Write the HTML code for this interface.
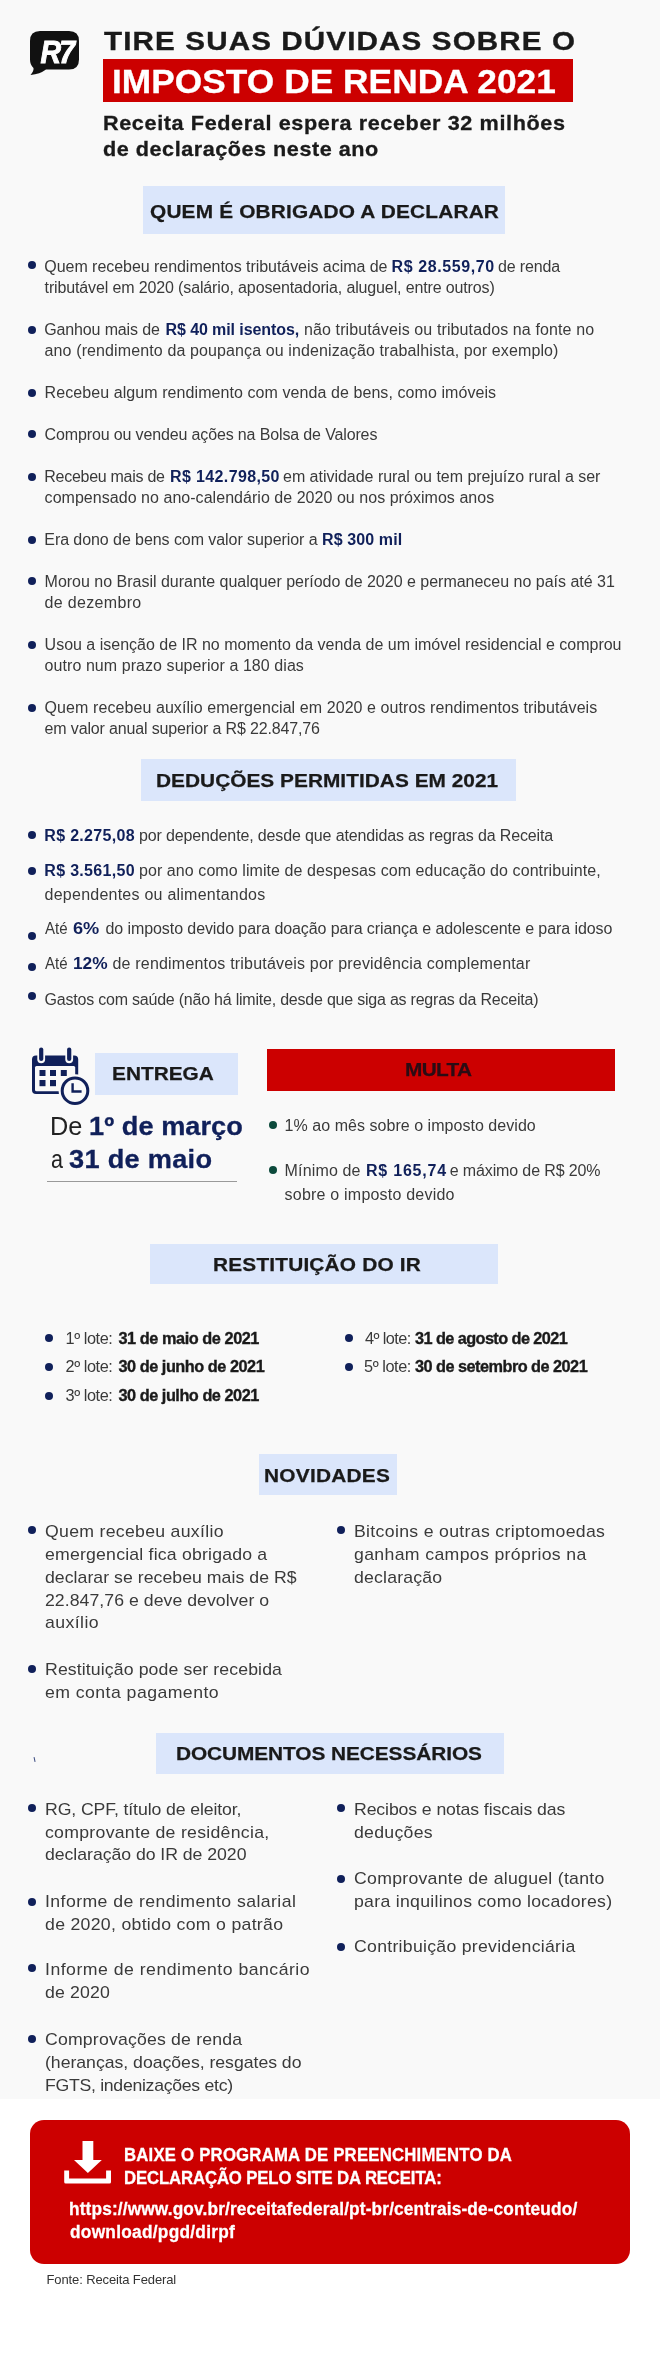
<!DOCTYPE html>
<html lang="pt-BR"><head><meta charset="utf-8"><title>Imposto de Renda 2021</title>
<style>
html,body{margin:0;padding:0;background:#fff}
body{width:660px;height:2366px;position:relative;overflow:hidden;font-family:"Liberation Sans", sans-serif}
.b{position:absolute}
.t{position:absolute;white-space:pre;transform-origin:0 50%}
svg{position:absolute;left:0;top:0}
</style></head><body>
<div class="b" style="left:0px;top:0px;width:660.0px;height:2098.7px;background:#f9f9f9;"></div>
<div class="b" style="left:103px;top:59.3px;width:469.5px;height:42.5px;background:#cc0000;"></div>
<div class="b" style="left:143px;top:186px;width:362.0px;height:47.5px;background:#dbe6fb;"></div>
<div class="b" style="left:28.20px;top:260.90px;width:8.2px;height:8.2px;border-radius:50%;background:#10205a"></div>
<div class="b" style="left:28.20px;top:325.90px;width:8.2px;height:8.2px;border-radius:50%;background:#10205a"></div>
<div class="b" style="left:28.20px;top:388.60px;width:8.2px;height:8.2px;border-radius:50%;background:#10205a"></div>
<div class="b" style="left:28.20px;top:429.90px;width:8.2px;height:8.2px;border-radius:50%;background:#10205a"></div>
<div class="b" style="left:28.20px;top:472.60px;width:8.2px;height:8.2px;border-radius:50%;background:#10205a"></div>
<div class="b" style="left:28.20px;top:535.90px;width:8.2px;height:8.2px;border-radius:50%;background:#10205a"></div>
<div class="b" style="left:28.20px;top:577.20px;width:8.2px;height:8.2px;border-radius:50%;background:#10205a"></div>
<div class="b" style="left:28.20px;top:640.90px;width:8.2px;height:8.2px;border-radius:50%;background:#10205a"></div>
<div class="b" style="left:28.20px;top:703.90px;width:8.2px;height:8.2px;border-radius:50%;background:#10205a"></div>
<div class="b" style="left:141px;top:759px;width:374.7px;height:41.7px;background:#dbe6fb;"></div>
<div class="b" style="left:28.40px;top:831.00px;width:8.0px;height:8.0px;border-radius:50%;background:#10205a"></div>
<div class="b" style="left:28.40px;top:867.00px;width:8.0px;height:8.0px;border-radius:50%;background:#10205a"></div>
<div class="b" style="left:28.40px;top:932.00px;width:8.0px;height:8.0px;border-radius:50%;background:#10205a"></div>
<div class="b" style="left:28.40px;top:962.70px;width:8.0px;height:8.0px;border-radius:50%;background:#10205a"></div>
<div class="b" style="left:28.40px;top:992.00px;width:8.0px;height:8.0px;border-radius:50%;background:#10205a"></div>
<div class="b" style="left:94.5px;top:1052.5px;width:143.0px;height:42.2px;background:#dbe6fb;"></div>
<div class="b" style="left:267px;top:1049px;width:348.0px;height:41.5px;background:#cc0000;"></div>
<div class="b" style="left:47.3px;top:1180.5px;width:190.2px;height:1.0px;background:#9a9a9a;"></div>
<div class="b" style="left:269.00px;top:1121.30px;width:8.0px;height:8.0px;border-radius:50%;background:#0c4a3c"></div>
<div class="b" style="left:269.00px;top:1166.00px;width:8.0px;height:8.0px;border-radius:50%;background:#0c4a3c"></div>
<div class="b" style="left:150px;top:1244px;width:348.0px;height:40.0px;background:#dbe6fb;"></div>
<div class="b" style="left:45.00px;top:1333.50px;width:8.0px;height:8.0px;border-radius:50%;background:#10205a"></div>
<div class="b" style="left:45.00px;top:1362.50px;width:8.0px;height:8.0px;border-radius:50%;background:#10205a"></div>
<div class="b" style="left:45.00px;top:1391.50px;width:8.0px;height:8.0px;border-radius:50%;background:#10205a"></div>
<div class="b" style="left:345.00px;top:1333.50px;width:8.0px;height:8.0px;border-radius:50%;background:#10205a"></div>
<div class="b" style="left:345.00px;top:1362.50px;width:8.0px;height:8.0px;border-radius:50%;background:#10205a"></div>
<div class="b" style="left:258.5px;top:1454px;width:138.0px;height:41.0px;background:#dbe6fb;"></div>
<div class="b" style="left:28.00px;top:1525.90px;width:8.2px;height:8.2px;border-radius:50%;background:#10205a"></div>
<div class="b" style="left:28.00px;top:1665.10px;width:8.2px;height:8.2px;border-radius:50%;background:#10205a"></div>
<div class="b" style="left:336.60px;top:1525.90px;width:8.2px;height:8.2px;border-radius:50%;background:#10205a"></div>
<div class="b" style="left:156px;top:1732.5px;width:347.5px;height:41.0px;background:#dbe6fb;"></div>
<div class="b" style="left:34px;top:1756.5px;width:1.1px;height:4.5px;background:#3a4a80;transform:rotate(-12deg)"></div>
<div class="b" style="left:28.00px;top:1803.90px;width:8.2px;height:8.2px;border-radius:50%;background:#10205a"></div>
<div class="b" style="left:28.00px;top:1897.90px;width:8.2px;height:8.2px;border-radius:50%;background:#10205a"></div>
<div class="b" style="left:28.00px;top:1964.20px;width:8.2px;height:8.2px;border-radius:50%;background:#10205a"></div>
<div class="b" style="left:28.00px;top:2034.60px;width:8.2px;height:8.2px;border-radius:50%;background:#10205a"></div>
<div class="b" style="left:336.70px;top:1803.90px;width:8.2px;height:8.2px;border-radius:50%;background:#10205a"></div>
<div class="b" style="left:336.70px;top:1874.70px;width:8.2px;height:8.2px;border-radius:50%;background:#10205a"></div>
<div class="b" style="left:336.70px;top:1942.50px;width:8.2px;height:8.2px;border-radius:50%;background:#10205a"></div>
<div class="b" style="left:30px;top:2120px;width:600.0px;height:144.0px;background:#cc0000;border-radius:14px;"></div>
<svg width="660" height="2366" viewBox="0 0 660 2366" style="will-change:transform">
<!-- R7 logo -->
<path d="M40 31 H69 Q79 31 79 41 V59.5 Q79 69.5 69 69.5 H46 Q40 74 30.5 75 Q34 71 33.5 68 Q30 65 30 59.5 V41 Q30 31 40 31 Z" fill="#111"/>
<text x="57" y="62.5" font-family="Liberation Sans, sans-serif" font-weight="700" font-style="italic" font-size="30.5" text-anchor="middle" fill="#fff" stroke="#fff" stroke-width="0.9" letter-spacing="-1.8" textLength="33" lengthAdjust="spacingAndGlyphs">R7</text>
<!-- calendar -->
<g fill="#10205a">
<rect x="32" y="1055.5" width="46.2" height="38.6" rx="4" />
<rect x="35" y="1066" width="40.2" height="25.2" rx="1.5" fill="#f9f9f9"/>
<rect x="37.3" y="1046" width="7.8" height="17.2" rx="3.9" fill="#f9f9f9"/>
<rect x="65.3" y="1046" width="7.8" height="17.2" rx="3.9" fill="#f9f9f9"/>
<rect x="39.1" y="1047.5" width="4.2" height="13.6" rx="2.1"/>
<rect x="67.1" y="1047.5" width="4.2" height="13.6" rx="2.1"/>
<rect x="39.5" y="1070" width="6" height="6"/><rect x="50" y="1070" width="6" height="6"/><rect x="60.8" y="1070" width="6" height="6"/>
<rect x="39.5" y="1080" width="6" height="6.2"/><rect x="50" y="1080" width="6" height="6.2"/>
<circle cx="75" cy="1090.7" r="16.4" fill="#f9f9f9"/>
<circle cx="75" cy="1090.7" r="12.8" fill="none" stroke="#10205a" stroke-width="3"/>
<path d="M72.6 1083.2 V1091.5 H81.6" fill="none" stroke="#10205a" stroke-width="2.4"/>
</g>
<!-- download icon -->
<g fill="#fff">
<rect x="82.5" y="2141" width="10.8" height="20"/>
<path d="M74 2160 H101.8 L87.9 2173 Z"/>
<path d="M64.2 2170.5 h4.9 v8.1 h37 v-8.1 h4.9 v11.5 q0 1.5 -1.5 1.5 h-43.8 q-1.5 0 -1.5 -1.5 Z"/>
</g>
</svg>

<div id="tx" style="position:absolute;left:0;top:0;width:660px;height:2366px;will-change:transform">
<div class="t" style="left:103.50px;top:29.25px;font-size:25.3px;line-height:25.3px;color:#1a1a1a;letter-spacing:0.962px;font-weight:700;transform:scaleX(1.1700);-webkit-text-stroke:0.35px">TIRE SUAS DÚVIDAS SOBRE O</div>
<div class="t" style="left:112.00px;top:65.25px;font-size:33.6px;line-height:33.6px;color:#ffffff;letter-spacing:0.048px;font-weight:700;transform:scaleX(1.0500);-webkit-text-stroke:0.3px">IMPOSTO DE RENDA 2021</div>
<div class="t" style="left:102.50px;top:113.25px;font-size:20.6px;line-height:20.6px;color:#1a1a1a;letter-spacing:0.583px;font-weight:700;transform:scaleX(1.0500);-webkit-text-stroke:0.3px">Receita Federal espera receber 32 milhões</div>
<div class="t" style="left:102.50px;top:139.25px;font-size:20.6px;line-height:20.6px;color:#1a1a1a;letter-spacing:0.497px;font-weight:700;transform:scaleX(1.0500);-webkit-text-stroke:0.3px">de declarações neste ano</div>
<div class="t" style="left:150.00px;top:203.25px;font-size:18.6px;line-height:18.6px;color:#1a1a1a;letter-spacing:0.161px;font-weight:700;transform:scaleX(1.1200);-webkit-text-stroke:0.25px">QUEM É OBRIGADO A DECLARAR</div>
<div class="t" style="left:44.30px;top:259.25px;font-size:16px;line-height:16px;color:#3a3a3a;letter-spacing:-0.043px">Quem recebeu rendimentos tributáveis acima de</div>
<div class="t" style="left:391.50px;top:259.25px;font-size:16px;line-height:16px;color:#3a3a3a;letter-spacing:0.591px"><span style="font-weight:700;color:#10205a">R$ 28.559,70</span></div>
<div class="t" style="left:498.00px;top:259.25px;font-size:16px;line-height:16px;color:#3a3a3a;letter-spacing:-0.143px">de renda</div>
<div class="t" style="left:44.60px;top:280.25px;font-size:16px;line-height:16px;color:#3a3a3a;letter-spacing:-0.135px">tributável em 2020 (salário, aposentadoria, aluguel, entre outros)</div>
<div class="t" style="left:44.30px;top:322.25px;font-size:16px;line-height:16px;color:#3a3a3a;letter-spacing:-0.146px">Ganhou mais de</div>
<div class="t" style="left:165.50px;top:322.25px;font-size:16px;line-height:16px;color:#3a3a3a;letter-spacing:-0.088px"><span style="font-weight:700;color:#10205a">R$ 40 mil isentos,</span></div>
<div class="t" style="left:304.00px;top:322.25px;font-size:16px;line-height:16px;color:#3a3a3a;letter-spacing:0.113px">não tributáveis ou tributados na fonte no</div>
<div class="t" style="left:44.60px;top:343.25px;font-size:16px;line-height:16px;color:#3a3a3a;letter-spacing:0.115px">ano (rendimento da poupança ou indenização trabalhista, por exemplo)</div>
<div class="t" style="left:44.60px;top:385.25px;font-size:16px;line-height:16px;color:#3a3a3a;letter-spacing:0.076px">Recebeu algum rendimento com venda de bens, como imóveis</div>
<div class="t" style="left:44.60px;top:427.25px;font-size:16px;line-height:16px;color:#3a3a3a;letter-spacing:-0.138px">Comprou ou vendeu ações na Bolsa de Valores</div>
<div class="t" style="left:44.30px;top:469.25px;font-size:16px;line-height:16px;color:#3a3a3a;letter-spacing:-0.279px">Recebeu mais de</div>
<div class="t" style="left:170.00px;top:469.25px;font-size:16px;line-height:16px;color:#3a3a3a;letter-spacing:0.375px"><span style="font-weight:700;color:#10205a">R$ 142.798,50</span></div>
<div class="t" style="left:283.00px;top:469.25px;font-size:16px;line-height:16px;color:#3a3a3a;letter-spacing:-0.022px">em atividade rural ou tem prejuízo rural a ser</div>
<div class="t" style="left:44.60px;top:490.25px;font-size:16px;line-height:16px;color:#3a3a3a;letter-spacing:0.039px">compensado no ano-calendário de 2020 ou nos próximos anos</div>
<div class="t" style="left:44.30px;top:532.25px;font-size:16px;line-height:16px;color:#3a3a3a;letter-spacing:-0.067px">Era dono de bens com valor superior a</div>
<div class="t" style="left:322.00px;top:532.25px;font-size:16px;line-height:16px;color:#3a3a3a;letter-spacing:0.111px"><span style="font-weight:700;color:#10205a">R$ 300 mil</span></div>
<div class="t" style="left:44.60px;top:574.25px;font-size:16px;line-height:16px;color:#3a3a3a;letter-spacing:-0.011px">Morou no Brasil durante qualquer período de 2020 e permaneceu no país até 31</div>
<div class="t" style="left:44.60px;top:595.25px;font-size:16px;line-height:16px;color:#3a3a3a;letter-spacing:0.320px">de dezembro</div>
<div class="t" style="left:44.60px;top:637.25px;font-size:16px;line-height:16px;color:#3a3a3a;letter-spacing:-0.004px">Usou a isenção de IR no momento da venda de um imóvel residencial e comprou</div>
<div class="t" style="left:44.60px;top:658.25px;font-size:16px;line-height:16px;color:#3a3a3a;letter-spacing:0.065px">outro num prazo superior a 180 dias</div>
<div class="t" style="left:44.60px;top:700.25px;font-size:16px;line-height:16px;color:#3a3a3a;letter-spacing:0.079px">Quem recebeu auxílio emergencial em 2020 e outros rendimentos tributáveis</div>
<div class="t" style="left:44.60px;top:721.25px;font-size:16px;line-height:16px;color:#3a3a3a;letter-spacing:-0.157px">em valor anual superior a R$ 22.847,76</div>
<div class="t" style="left:155.70px;top:772.25px;font-size:18.6px;line-height:18.6px;color:#1a1a1a;letter-spacing:0.027px;font-weight:700;transform:scaleX(1.1200);-webkit-text-stroke:0.25px">DEDUÇÕES PERMITIDAS EM 2021</div>
<div class="t" style="left:44.30px;top:828.25px;font-size:16px;line-height:16px;color:#3a3a3a;letter-spacing:0.310px"><span style="font-weight:700;color:#10205a">R$ 2.275,08</span></div>
<div class="t" style="left:139.00px;top:828.25px;font-size:16px;line-height:16px;color:#3a3a3a;letter-spacing:-0.136px">por dependente, desde que atendidas as regras da Receita</div>
<div class="t" style="left:44.30px;top:863.25px;font-size:16px;line-height:16px;color:#3a3a3a;letter-spacing:0.310px"><span style="font-weight:700;color:#10205a">R$ 3.561,50</span></div>
<div class="t" style="left:139.00px;top:863.25px;font-size:16px;line-height:16px;color:#3a3a3a;letter-spacing:0.075px">por ano como limite de despesas com educação do contribuinte,</div>
<div class="t" style="left:44.60px;top:887.25px;font-size:16px;line-height:16px;color:#3a3a3a;letter-spacing:0.238px">dependentes ou alimentandos</div>
<div class="t" style="left:45.30px;top:921.25px;font-size:16px;line-height:16px;color:#3a3a3a;transform:scaleX(0.9401)">Até</div>
<div class="t" style="left:73.00px;top:921.25px;font-size:16px;line-height:16px;color:#3a3a3a;transform:scaleX(1.1364)"><span style="font-weight:700;color:#10205a">6%</span></div>
<div class="t" style="left:105.50px;top:921.25px;font-size:16px;line-height:16px;color:#3a3a3a;letter-spacing:-0.081px">do imposto devido para doação para criança e adolescente e para idoso</div>
<div class="t" style="left:45.30px;top:956.25px;font-size:16px;line-height:16px;color:#3a3a3a;transform:scaleX(0.9401)">Até</div>
<div class="t" style="left:73.00px;top:956.25px;font-size:16px;line-height:16px;color:#3a3a3a;transform:scaleX(1.0809)"><span style="font-weight:700;color:#10205a">12%</span></div>
<div class="t" style="left:112.50px;top:956.25px;font-size:16px;line-height:16px;color:#3a3a3a;letter-spacing:0.194px">de rendimentos tributáveis por previdência complementar</div>
<div class="t" style="left:44.60px;top:992.25px;font-size:16px;line-height:16px;color:#3a3a3a;letter-spacing:-0.218px">Gastos com saúde (não há limite, desde que siga as regras da Receita)</div>
<div class="t" style="left:111.70px;top:1065.25px;font-size:18.6px;line-height:18.6px;color:#1a1a1a;font-weight:700;transform:scaleX(1.1200);-webkit-text-stroke:0.25px">ENTREGA</div>
<div class="t" style="left:405.40px;top:1061.25px;font-size:18.6px;line-height:18.6px;color:#2a0c14;letter-spacing:-0.603px;font-weight:700;transform:scaleX(1.1200);-webkit-text-stroke:0.25px">MULTA</div>
<div class="t" style="left:50.00px;top:1114.25px;font-size:25.4px;line-height:25.4px;color:#3a3a3a;transform:scaleX(0.9970)"><span style="color:#222">De</span></div>
<div class="t" style="left:89.00px;top:1114.25px;font-size:25.4px;line-height:25.4px;color:#3a3a3a;letter-spacing:0.047px;transform:scaleX(1.0700);-webkit-text-stroke:0.3px"><span style="font-weight:700;color:#10205a">1º de março</span></div>
<div class="t" style="left:51.00px;top:1147.25px;font-size:25.4px;line-height:25.4px;color:#3a3a3a;transform:scaleX(0.8462)"><span style="color:#222">a</span></div>
<div class="t" style="left:69.30px;top:1147.25px;font-size:25.4px;line-height:25.4px;color:#3a3a3a;letter-spacing:0.270px;transform:scaleX(1.0700);-webkit-text-stroke:0.3px"><span style="font-weight:700;color:#10205a">31 de maio</span></div>
<div class="t" style="left:284.60px;top:1118.25px;font-size:16px;line-height:16px;color:#3a3a3a;letter-spacing:0.039px">1% ao mês sobre o imposto devido</div>
<div class="t" style="left:284.60px;top:1163.25px;font-size:16px;line-height:16px;color:#3a3a3a;letter-spacing:0.150px">Mínimo de</div>
<div class="t" style="left:366.00px;top:1163.25px;font-size:16px;line-height:16px;color:#3a3a3a;letter-spacing:0.775px"><span style="font-weight:700;color:#10205a">R$ 165,74</span></div>
<div class="t" style="left:449.70px;top:1163.25px;font-size:16px;line-height:16px;color:#3a3a3a;letter-spacing:-0.124px">e máximo de R$ 20%</div>
<div class="t" style="left:284.60px;top:1187.25px;font-size:16px;line-height:16px;color:#3a3a3a;letter-spacing:0.210px">sobre o imposto devido</div>
<div class="t" style="left:213.00px;top:1256.25px;font-size:18.6px;line-height:18.6px;color:#1a1a1a;letter-spacing:0.167px;font-weight:700;transform:scaleX(1.1200);-webkit-text-stroke:0.25px">RESTITUIÇÃO DO IR</div>
<div class="t" style="left:65.50px;top:1330.25px;font-size:16.3px;line-height:16.3px;color:#3a3a3a;letter-spacing:-0.429px">1º lote:</div>
<div class="t" style="left:118.50px;top:1330.25px;font-size:16.3px;line-height:16.3px;color:#3a3a3a;letter-spacing:-0.441px;-webkit-text-stroke:0.35px"><span style="font-weight:700;color:#1a1a1a">31 de maio de 2021</span></div>
<div class="t" style="left:65.50px;top:1358.25px;font-size:16.3px;line-height:16.3px;color:#3a3a3a;letter-spacing:-0.429px">2º lote:</div>
<div class="t" style="left:118.50px;top:1358.25px;font-size:16.3px;line-height:16.3px;color:#3a3a3a;letter-spacing:-0.472px;-webkit-text-stroke:0.35px"><span style="font-weight:700;color:#1a1a1a">30 de junho de 2021</span></div>
<div class="t" style="left:65.50px;top:1387.25px;font-size:16.3px;line-height:16.3px;color:#3a3a3a;letter-spacing:-0.429px">3º lote:</div>
<div class="t" style="left:118.50px;top:1387.25px;font-size:16.3px;line-height:16.3px;color:#3a3a3a;letter-spacing:-0.472px;-webkit-text-stroke:0.35px"><span style="font-weight:700;color:#1a1a1a">30 de julho de 2021</span></div>
<div class="t" style="left:365.00px;top:1330.25px;font-size:16.3px;line-height:16.3px;color:#3a3a3a;letter-spacing:-0.571px">4º lote:</div>
<div class="t" style="left:415.00px;top:1330.25px;font-size:16.3px;line-height:16.3px;color:#3a3a3a;letter-spacing:-0.579px;-webkit-text-stroke:0.35px"><span style="font-weight:700;color:#1a1a1a">31 de agosto de 2021</span></div>
<div class="t" style="left:364.00px;top:1358.25px;font-size:16.3px;line-height:16.3px;color:#3a3a3a;letter-spacing:-0.429px">5º lote:</div>
<div class="t" style="left:415.00px;top:1358.25px;font-size:16.3px;line-height:16.3px;color:#3a3a3a;letter-spacing:-0.524px;-webkit-text-stroke:0.35px"><span style="font-weight:700;color:#1a1a1a">30 de setembro de 2021</span></div>
<div class="t" style="left:264.00px;top:1467.25px;font-size:18.6px;line-height:18.6px;color:#1a1a1a;letter-spacing:0.223px;font-weight:700;transform:scaleX(1.1200);-webkit-text-stroke:0.25px">NOVIDADES</div>
<div class="t" style="left:45.00px;top:1523.25px;font-size:17px;line-height:17px;color:#3a3a3a;letter-spacing:0.278px;transform:scaleX(1.0400)">Quem recebeu auxílio</div>
<div class="t" style="left:45.00px;top:1546.25px;font-size:17px;line-height:17px;color:#3a3a3a;letter-spacing:0.185px;transform:scaleX(1.0400)">emergencial fica obrigado a</div>
<div class="t" style="left:45.00px;top:1569.25px;font-size:17px;line-height:17px;color:#3a3a3a;letter-spacing:0.033px;transform:scaleX(1.0400)">declarar se recebeu mais de R$</div>
<div class="t" style="left:45.00px;top:1592.25px;font-size:17px;line-height:17px;color:#3a3a3a;letter-spacing:0.037px;transform:scaleX(1.0400)">22.847,76 e deve devolver o</div>
<div class="t" style="left:45.00px;top:1614.25px;font-size:17px;line-height:17px;color:#3a3a3a;letter-spacing:0.401px;transform:scaleX(1.0400)">auxílio</div>
<div class="t" style="left:45.00px;top:1661.25px;font-size:17px;line-height:17px;color:#3a3a3a;letter-spacing:0.103px;transform:scaleX(1.0400)">Restituição pode ser recebida</div>
<div class="t" style="left:45.00px;top:1684.25px;font-size:17px;line-height:17px;color:#3a3a3a;letter-spacing:0.424px;transform:scaleX(1.0400)">em conta pagamento</div>
<div class="t" style="left:353.60px;top:1523.25px;font-size:17px;line-height:17px;color:#3a3a3a;letter-spacing:0.305px;transform:scaleX(1.0400)">Bitcoins e outras criptomoedas</div>
<div class="t" style="left:353.60px;top:1546.25px;font-size:17px;line-height:17px;color:#3a3a3a;letter-spacing:0.329px;transform:scaleX(1.0400)">ganham campos próprios na</div>
<div class="t" style="left:353.60px;top:1569.25px;font-size:17px;line-height:17px;color:#3a3a3a;letter-spacing:0.182px;transform:scaleX(1.0400)">declaração</div>
<div class="t" style="left:175.50px;top:1745.25px;font-size:18.6px;line-height:18.6px;color:#1a1a1a;letter-spacing:-0.064px;font-weight:700;transform:scaleX(1.1200);-webkit-text-stroke:0.25px">DOCUMENTOS NECESSÁRIOS</div>
<div class="t" style="left:45.00px;top:1801.25px;font-size:17px;line-height:17px;color:#3a3a3a;letter-spacing:-0.111px;transform:scaleX(1.0400)">RG, CPF, título de eleitor,</div>
<div class="t" style="left:45.00px;top:1824.25px;font-size:17px;line-height:17px;color:#3a3a3a;letter-spacing:0.269px;transform:scaleX(1.0400)">comprovante de residência,</div>
<div class="t" style="left:45.00px;top:1846.25px;font-size:17px;line-height:17px;color:#3a3a3a;letter-spacing:-0.042px;transform:scaleX(1.0400)">declaração do IR de 2020</div>
<div class="t" style="left:45.00px;top:1893.25px;font-size:17px;line-height:17px;color:#3a3a3a;letter-spacing:0.398px;transform:scaleX(1.0400)">Informe de rendimento salarial</div>
<div class="t" style="left:45.00px;top:1916.25px;font-size:17px;line-height:17px;color:#3a3a3a;letter-spacing:0.285px;transform:scaleX(1.0400)">de 2020, obtido com o patrão</div>
<div class="t" style="left:45.00px;top:1961.25px;font-size:17px;line-height:17px;color:#3a3a3a;letter-spacing:0.464px;transform:scaleX(1.0400)">Informe de rendimento bancário</div>
<div class="t" style="left:45.00px;top:1984.25px;font-size:17px;line-height:17px;color:#3a3a3a;letter-spacing:0.160px;transform:scaleX(1.0400)">de 2020</div>
<div class="t" style="left:45.00px;top:2031.25px;font-size:17px;line-height:17px;color:#3a3a3a;letter-spacing:0.168px;transform:scaleX(1.0400)">Comprovações de renda</div>
<div class="t" style="left:45.00px;top:2054.25px;font-size:17px;line-height:17px;color:#3a3a3a;letter-spacing:-0.032px;transform:scaleX(1.0400)">(heranças, doações, resgates do</div>
<div class="t" style="left:45.00px;top:2077.25px;font-size:17px;line-height:17px;color:#3a3a3a;letter-spacing:-0.284px;transform:scaleX(1.0400)">FGTS, indenizações etc)</div>
<div class="t" style="left:354.00px;top:1801.25px;font-size:17px;line-height:17px;color:#3a3a3a;letter-spacing:-0.111px;transform:scaleX(1.0400)">Recibos e notas fiscais das</div>
<div class="t" style="left:354.00px;top:1824.25px;font-size:17px;line-height:17px;color:#3a3a3a;letter-spacing:0.275px;transform:scaleX(1.0400)">deduções</div>
<div class="t" style="left:354.00px;top:1870.25px;font-size:17px;line-height:17px;color:#3a3a3a;letter-spacing:0.258px;transform:scaleX(1.0400)">Comprovante de aluguel (tanto</div>
<div class="t" style="left:354.00px;top:1893.25px;font-size:17px;line-height:17px;color:#3a3a3a;letter-spacing:0.272px;transform:scaleX(1.0400)">para inquilinos como locadores)</div>
<div class="t" style="left:354.00px;top:1938.25px;font-size:17px;line-height:17px;color:#3a3a3a;letter-spacing:0.259px;transform:scaleX(1.0400)">Contribuição previdenciária</div>
<div class="t" style="left:124.00px;top:2146.25px;font-size:18px;line-height:18px;color:#fff;letter-spacing:0.230px;font-weight:700;transform:scaleX(0.9300);-webkit-text-stroke:0.3px">BAIXE O PROGRAMA DE PREENCHIMENTO DA</div>
<div class="t" style="left:124.00px;top:2169.25px;font-size:18px;line-height:18px;color:#fff;letter-spacing:-0.139px;font-weight:700;transform:scaleX(0.9300);-webkit-text-stroke:0.3px">DECLARAÇÃO PELO SITE DA RECEITA:</div>
<div class="t" style="left:68.50px;top:2200.25px;font-size:18px;line-height:18px;color:#fff;letter-spacing:0.139px;font-weight:700;transform:scaleX(0.9600);-webkit-text-stroke:0.3px">https://www.gov.br/receitafederal/pt-br/centrais-de-conteudo/</div>
<div class="t" style="left:69.50px;top:2223.25px;font-size:18px;line-height:18px;color:#fff;letter-spacing:0.276px;font-weight:700;transform:scaleX(0.9600);-webkit-text-stroke:0.3px">download/pgd/dirpf</div>
<div class="t" style="left:46.50px;top:2273.25px;font-size:13px;line-height:13px;color:#333;letter-spacing:-0.119px">Fonte: Receita Federal</div>
</div>
</body></html>
